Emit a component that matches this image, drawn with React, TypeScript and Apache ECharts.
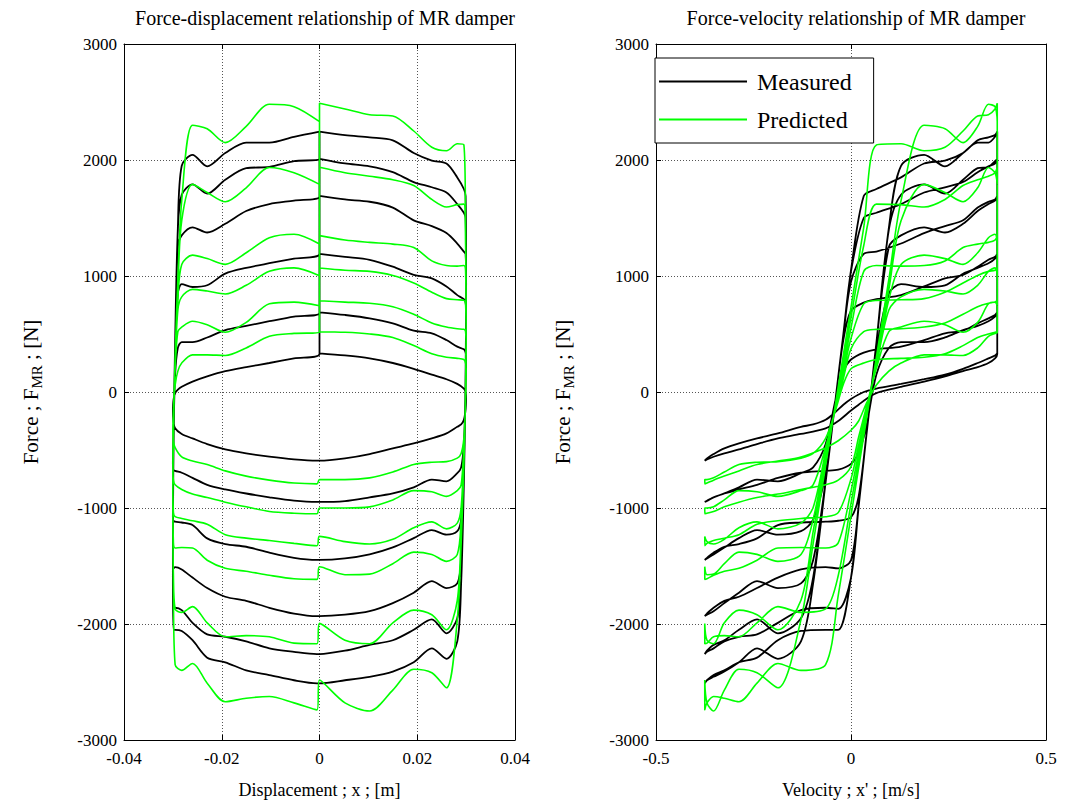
import React, { useEffect, useRef } from "react";
import * as echarts from "echarts";

// Excitation samples (one cycle, starting at x = 0 moving right)
const DISP = [0, 0.00521, 0.01026, 0.015, 0.01928, 0.02298, 0.02598, 0.02819, 0.02954, 0.02989, 0.03,
  0.02996, 0.02984, 0.02954, 0.02898, 0.02819,
  0.02598, 0.02298, 0.01928, 0.015, 0.01026, 0.00521, 0, -0.00052,
  -0.00521, -0.01026, -0.015, -0.01928, -0.02298, -0.02598, -0.02819, -0.02954, -0.02989,
  -0.03, -0.02996, -0.02984, -0.02954, -0.02898, -0.02819,
  -0.02598, -0.02298, -0.01928, -0.015, -0.01026, -0.00521, 0];
const VEL = [0.375, 0.3693, 0.3524, 0.3248, 0.2873, 0.241, 0.1875, 0.1283, 0.0651, 0.0327, 0,
  -0.0196, -0.0392, -0.0651, -0.0971, -0.1283,
  -0.1875, -0.241, -0.2873, -0.3248, -0.3524, -0.3693, -0.375, -0.3749,
  -0.3693, -0.3524, -0.3248, -0.2873, -0.241, -0.1875, -0.1283, -0.0651, -0.0327,
  0, 0.0196, 0.0392, 0.0651, 0.0971, 0.1283,
  0.1875, 0.241, 0.2873, 0.3248, 0.3524, 0.3693, 0.375];

// Measured force loops [N]
const M1 = [333, 315, 290, 250, 200, 150, 110, 70, 30, 0, -60,
  -110, -170, -240, -280, -300,
  -357, -400, -443, -486, -535, -572, -592, -592,
  -581, -558, -529, -495, -449, -400, -362, -313, -250,
  -160, -110, -60, -10, 20, 45,
  90, 135, 180, 215, 250, 290, 328];
const M2 = [687, 664, 635, 592, 529, 506, 448, 391, 368, 340, 280,
  180, -60, -450, -650, -700,
  -770, -755, -822, -874, -908, -940, -948, -948,
  -937, -908, -875, -840, -800, -740, -696, -680, -670,
  -620, -520, -300, 150, 380, 430,
  430, 470, 534, 570, 610, 650, 680];
const M3 = [1190, 1165, 1140, 1080, 1010, 980, 910, 835, 800, 770, 700,
  450, -50, -700, -1100, -1200,
  -1230, -1190, -1260, -1340, -1400, -1435, -1448, -1448,
  -1430, -1385, -1334, -1311, -1262, -1147, -1125, -1118, -1110,
  -1080, -900, -380, 350, 850, 930,
  905, 920, 1020, 1070, 1110, 1150, 1192];
const M4 = [1690, 1660, 1640, 1590, 1480, 1430, 1370, 1280, 1210, 1190, 950,
  490, -50, -770, -1450, -1650,
  -1690, -1630, -1730, -1820, -1890, -1920, -1932, -1932,
  -1910, -1860, -1800, -1765, -1690, -1600, -1530, -1510, -1520,
  -1450, -980, -380, 424, 1250, 1350,
  1420, 1375, 1450, 1560, 1620, 1650, 1685];
const M5 = [2010, 1970, 1945, 1895, 1810, 1765, 1720, 1620, 1545, 1500, 1040,
  500, -50, -770, -1600, -1950,
  -2080, -1960, -2050, -2140, -2180, -2230, -2259, -2259,
  -2240, -2210, -2150, -2110, -2090, -1990, -1880, -1860, -1870,
  -1600, -989, -382, 424, 1400, 1700,
  1790, 1710, 1830, 1930, 1940, 1990, 2010];
const M6 = [2245, 2215, 2195, 2170, 2060, 1995, 1970, 1850, 1750, 1690, 1050,
  500, -50, -780, -1650, -2150,
  -2300, -2210, -2330, -2410, -2455, -2485, -2511, -2511,
  -2485, -2440, -2400, -2330, -2290, -2140, -2060, -2050, -2050,
  -1600, -989, -382, 424, 1416, 1950,
  2045, 1945, 2060, 2150, 2150, 2200, 2245];

// Predicted force loops [N]
const P1 = [520, 515, 500, 470, 400, 330, 300, 290, 280, 250, 200,
  67, -152, -400, -530, -570,
  -600, -605, -625, -690, -740, -755, -755, -792,
  -785, -760, -725, -680, -625, -595, -560, -480, -420,
  -330, -250, -100, 60, 180, 250,
  320, 320, 315, 380, 480, 505, 514];
const P2 = [787, 775, 765, 735, 670, 595, 560, 545, 540, 520, 372,
  117, -138, -475, -800, -850,
  -900, -860, -850, -930, -990, -1000, -1000, -1050,
  -1045, -1030, -990, -950, -910, -880, -840, -800, -760,
  -643, -388, -133, 204, 520, 560,
  610, 580, 515, 600, 760, 775, 744];
const P3 = [1069, 1050, 1040, 1005, 940, 860, 805, 795, 790, 760, 462,
  168, -126, -515, -995, -1130,
  -1180, -1120, -1170, -1270, -1310, -1290, -1245, -1325,
  -1305, -1280, -1260, -1230, -1140, -1110, -1090, -1075, -1040,
  -749, -456, -162, 227, 707, 820,
  885, 870, 845, 920, 1040, 1070, 1003];
const P4 = [1348, 1310, 1290, 1275, 1245, 1130, 1090, 1085, 1090, 1040, 552,
  219, -114, -555, -1099, -1400,
  -1460, -1400, -1380, -1480, -1570, -1575, -1506, -1615,
  -1610, -1580, -1545, -1520, -1450, -1345, -1340, -1345, -1300,
  -855, -522, -189, 252, 796, 1100,
  1180, 1150, 1100, 1200, 1330, 1360, 1276];
const P5 = [1937, 1890, 1860, 1830, 1780, 1660, 1595, 1615, 1620, 1263, 642,
  270, -103, -595, -1203, -1796,
  -2050, -1920, -1880, -1990, -2170, -2140, -1995, -2170,
  -2165, -2110, -2100, -2110, -1990, -1850, -1900, -1870, -1582,
  -961, -589, -216, 276, 884, 1477,
  1790, 1720, 1640, 1760, 1935, 1890, 1790];
const P6 = [2489, 2440, 2390, 2380, 2250, 2110, 2080, 2140, 2130, 1419, 732,
  320, -91, -635, -1307, -1962,
  -2550, -2420, -2390, -2570, -2750, -2680, -2483, -2740,
  -2680, -2625, -2640, -2670, -2510, -2340, -2400, -2350, -1754,
  -1067, -655, -245, 300, 972, 1650,
  2300, 2270, 2150, 2290, 2480, 2460, 2330];

const MEASURED = [M1, M2, M3, M4, M5, M6];
const PREDICTED = [P1, P2, P3, P4, P5, P6];

const X_TICKS_LEFT = [-0.04, -0.02, 0, 0.02, 0.04];
const X_TICKS_RIGHT = [-0.5, 0, 0.5];
const Y_TICKS = [-3000, -2000, -1000, 0, 1000, 2000, 3000];

const FONT = "Liberation Serif";

function build(loops: number[][], xs: number[]) {
  const out: number[][] = [];
  loops.forEach((f) => f.forEach((v, i) => out.push([xs[i], v])));
  return out;
}

const tickStyle = { fontFamily: FONT, fontSize: 17, color: "#000" };
const nameStyle = { fontFamily: FONT, fontSize: 18, color: "#000" };

function mainX(grid: number, ticks: number[], name: string, fmt: (v: number) => string) {
  return {
    gridIndex: grid,
    type: "value",
    position: "bottom",
    min: ticks[0],
    max: ticks[ticks.length - 1],
    interval: ticks[1] - ticks[0],
    name,
    nameLocation: "middle",
    nameGap: 41,
    nameTextStyle: { ...nameStyle },
    axisLine: { show: true, onZero: false, lineStyle: { color: "#000", width: 1 } },
    axisTick: { show: true, inside: true, length: 5, lineStyle: { color: "#000" } },
    axisLabel: { ...tickStyle, margin: 10, formatter: fmt },
    splitLine: { show: true, lineStyle: { color: "#555", type: [1, 2], width: 1 } },
  };
}
function boxX(grid: number, ticks: number[]) {
  return {
    gridIndex: grid,
    type: "value",
    position: "top",
    min: ticks[0],
    max: ticks[ticks.length - 1],
    interval: ticks[1] - ticks[0],
    axisLine: { show: true, onZero: false, lineStyle: { color: "#000", width: 1 } },
    axisTick: { show: true, inside: true, length: 5, lineStyle: { color: "#000" } },
    axisLabel: { show: false },
    splitLine: { show: false },
  };
}
function mainY(grid: number) {
  return {
    gridIndex: grid,
    type: "value",
    position: "left",
    min: Y_TICKS[0],
    max: Y_TICKS[Y_TICKS.length - 1],
    interval: Y_TICKS[1] - Y_TICKS[0],
    name: "Force ; F{s|MR} ; [N]",
    nameLocation: "middle",
    nameGap: 80,
    nameRotate: 90,
    nameTextStyle: {
      fontFamily: FONT,
      fontSize: 21,
      color: "#000",
      lineHeight: 26,
      rich: { s: { fontFamily: FONT, fontSize: 15, color: "#000", lineHeight: 10, verticalAlign: "bottom" } },
    },
    axisLine: { show: true, onZero: false, lineStyle: { color: "#000", width: 1 } },
    axisTick: { show: true, inside: true, length: 5, lineStyle: { color: "#000" } },
    axisLabel: { ...tickStyle, margin: 7, formatter: (v: number) => String(v) },
    splitLine: { show: true, lineStyle: { color: "#555", type: [1, 2], width: 1 } },
  };
}
function boxY(grid: number) {
  return {
    gridIndex: grid,
    type: "value",
    position: "right",
    min: Y_TICKS[0],
    max: Y_TICKS[Y_TICKS.length - 1],
    interval: Y_TICKS[1] - Y_TICKS[0],
    axisLine: { show: true, onZero: false, lineStyle: { color: "#000", width: 1 } },
    axisTick: { show: true, inside: true, length: 5, lineStyle: { color: "#000" } },
    axisLabel: { show: false },
    splitLine: { show: false },
  };
}

function lineSeries(name: string, color: string, width: number, xi: number, yi: number, data: number[][]) {
  return {
    name,
    type: "line",
    xAxisIndex: xi,
    yAxisIndex: yi,
    data,
    symbol: "none",
    smooth: 0.3,
    clip: true,
    lineStyle: { color, width },
    itemStyle: { color },
  };
}

const option = {
  animation: false,
  backgroundColor: "#fff",
  title: [
    {
      text: "Force-displacement relationship of MR damper",
      left: 320,
      top: 3,
      textAlign: "center",
      textStyle: { fontFamily: FONT, fontSize: 20, color: "#000", fontWeight: "normal" },
    },
    {
      text: "Force-velocity relationship of MR damper",
      left: 851,
      top: 3,
      textAlign: "center",
      textStyle: { fontFamily: FONT, fontSize: 20, color: "#000", fontWeight: "normal" },
    },
  ],
  legend: {
    orient: "vertical",
    left: 655,
    top: 58,
    padding: [10, 22, 10, 4],
    itemGap: 11,
    itemWidth: 88,
    itemHeight: 2,
    icon: "rect",
    backgroundColor: "#fff",
    borderColor: "#000",
    borderWidth: 1,
    textStyle: { fontFamily: FONT, fontSize: 24, color: "#000", lineHeight: 27, padding: [0, 0, 0, 5] },
    data: ["Measured", "Predicted"],
  },
  grid: [
    { left: 124, top: 44, width: 391, height: 696 },
    { left: 656, top: 44, width: 390, height: 696 },
  ],
  xAxis: [
    mainX(0, X_TICKS_LEFT, "Displacement ; x ; [m]", (v: number) => (v === 0 ? "0" : v.toFixed(2))),
    boxX(0, X_TICKS_LEFT),
    mainX(1, X_TICKS_RIGHT, "Velocity ; x' ; [m/s]", (v: number) => (v === 0 ? "0" : v.toFixed(1))),
    boxX(1, X_TICKS_RIGHT),
  ],
  yAxis: [mainY(0), boxY(0), mainY(1), boxY(1)],
  series: [
    lineSeries("Measured", "#000000", 1.8, 0, 0, build(MEASURED, DISP)),
    lineSeries("Measured", "#000000", 1.8, 2, 2, build(MEASURED, VEL)),
    lineSeries("Predicted", "#00ff00", 1.6, 0, 0, build(PREDICTED, DISP)),
    lineSeries("Predicted", "#00ff00", 1.6, 2, 2, build(PREDICTED, VEL)),
  ],
};

export default function App() {
  const ref = useRef<HTMLDivElement>(null);
  useEffect(() => {
    const chart = echarts.init(ref.current as HTMLDivElement, null, { renderer: "svg" });
    chart.setOption(option as any);
    return () => chart.dispose();
  }, []);
  return (
    <div
      ref={ref}
      style={{ position: "fixed", left: 0, top: 0, width: 1066, height: 811, background: "#fff" }}
    />
  );
}
